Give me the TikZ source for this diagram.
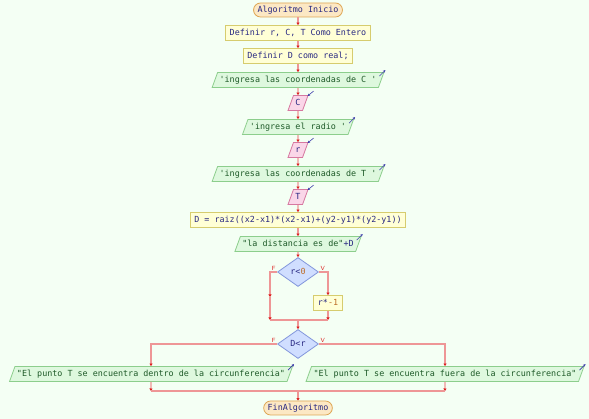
\documentclass[tikz,border=0pt]{standalone}
\usepackage{fontspec}
\setmonofont{DejaVu Sans Mono}
\usetikzlibrary{shapes.geometric, arrows.meta}

\definecolor{fondo}{RGB}{244,255,244}
\definecolor{termfondo}{RGB}{252,232,196}
\definecolor{termborde}{RGB}{222,166,84}
\definecolor{procfondo}{RGB}{255,255,214}
\definecolor{procborde}{RGB}{214,204,110}
\definecolor{salfondo}{RGB}{222,248,222}
\definecolor{salborde}{RGB}{140,206,140}
\definecolor{entfondo}{RGB}{250,214,232}
\definecolor{entborde}{RGB}{214,120,160}
\definecolor{decfondo}{RGB}{208,222,255}
\definecolor{decborde}{RGB}{130,150,220}
\definecolor{trazo}{RGB}{238,150,150}
\definecolor{punta}{RGB}{220,30,30}
\definecolor{texto}{RGB}{40,40,130}
\definecolor{cadena}{RGB}{30,90,40}
\definecolor{numero}{RGB}{190,110,40}
\definecolor{icono}{RGB}{60,60,170}

\newcommand{\txtcad}[1]{\textcolor{cadena}{#1}}
\newcommand{\txtnum}[1]{\textcolor{numero}{#1}}

\tikzset{
  base/.style={draw, line width=0.8pt, font=\ttfamily\fontsize{8.4}{10}\selectfont,
    text=texto, text height=6.3pt, text depth=1.7pt, inner ysep=3.5pt, inner xsep=4pt},
  terminal/.style={base, rounded corners=7pt, draw=termborde, fill=termfondo, inner ysep=3pt},
  proceso/.style={base, draw=procborde, fill=procfondo},
  salida/.style={base, trapezium, trapezium left angle=70, trapezium right angle=110,
    draw=salborde, fill=salfondo, inner xsep=2pt},
  entrada/.style={salida, draw=entborde, fill=entfondo},
  decision/.style={base, diamond, aspect=1.4, draw=decborde, fill=decfondo,
    minimum width=41pt, minimum height=29pt, inner sep=0pt},
  flecha/.style={line width=1.3pt, draw=trazo, -{Triangle[length=2.5pt,width=3pt,color=punta]}},
  union/.style={line width=1.3pt, draw=trazo},
  etiq/.style={font=\sffamily\fontsize{6}{6}\selectfont, text=punta, inner sep=1.5pt},
  sale/.style={draw=icono, line width=0.6pt, -{Stealth[length=2.5pt,width=2.5pt]}},
  entra/.style={draw=icono, line width=0.6pt, -{Stealth[length=2.5pt,width=2.5pt]}}
}

\begin{document}
\begin{tikzpicture}[x=1pt, y=-1pt]
\fill[fondo] (0,0) rectangle (589,419);
\useasboundingbox (0,0) rectangle (589,419);

\node[terminal] (ini) at (298,10) {Algoritmo Inicio};
\node[proceso] (d1) at (298,33) {Definir r, C, T Como Entero};
\node[proceso] (d2) at (298,56) {Definir D como real;};
\node[salida] (o1) at (298,80) {\txtcad{'ingresa las coordenadas de C '}};
\node[entrada] (i1) at (298,103) {C};
\node[salida] (o2) at (298,127) {\txtcad{'ingresa el radio '}};
\node[entrada] (i2) at (298,150) {r};
\node[salida] (o3) at (298,174) {\txtcad{'ingresa las coordenadas de T '}};
\node[entrada] (i3) at (298,197) {T};
\node[proceso] (p1) at (298,220) {D = raiz((x2-x1)*(x2-x1)+(y2-y1)*(y2-y1))};
\node[salida] (o4) at (298,244) {\txtcad{"la distancia es de"}+D};
\node[decision] (c1) at (298,272) {r<\txtnum{0}};
\node[proceso] (neg) at (328,303) {r*\txtnum{-1}};
\node[decision] (c2) at (298,344) {D<r};
\node[salida] (o5) at (151,374) {\txtcad{"El punto T se encuentra dentro de la circunferencia"}};
\node[salida] (o6) at (445,374) {\txtcad{"El punto T se encuentra fuera de la circunferencia"}};
\node[terminal] (fin) at (298,408) {FinAlgoritmo};

\coordinate (el1) at (270,297);
\coordinate (jl1) at (270,320);
\coordinate (jr1) at (328,320);
\coordinate (jc1) at (298,320);
\coordinate (jl2) at (151,391);
\coordinate (jr2) at (445,391);
\coordinate (jc2) at (298,391);

\draw[flecha] (ini) -- (d1);
\draw[flecha] (d1) -- (d2);
\draw[flecha] (d2) -- (o1);
\draw[flecha] (o1) -- (i1);
\draw[flecha] (i1) -- (o2);
\draw[flecha] (o2) -- (i2);
\draw[flecha] (i2) -- (o3);
\draw[flecha] (o3) -- (i3);
\draw[flecha] (i3) -- (p1);
\draw[flecha] (p1) -- (o4);
\draw[flecha] (o4) -- (c1);

\draw[flecha] (c1.west) -| (el1);
\draw[flecha] (el1) -- (jl1);
\draw[flecha] (c1.east) -| (neg.north);
\draw[flecha] (neg.south) -- (jr1);
\draw[union] (jl1) -- (jr1);
\draw[flecha] (jc1) -- (c2.north);
\node[etiq, anchor=south east] at (c1.west) {F};
\node[etiq, anchor=south west] at (c1.east) {V};

\draw[flecha] (c2.west) -| (o5.north);
\draw[flecha] (o5.south) -- (jl2);
\draw[flecha] (c2.east) -| (o6.north);
\draw[flecha] (o6.south) -- (jr2);
\draw[union] (jl2) -- (jr2);
\draw[flecha] (jc2) -- (fin.north);
\node[etiq, anchor=south east] at (c2.west) {F};
\node[etiq, anchor=south west] at (c2.east) {V};

\foreach \s in {o1,o2,o3,o4,o5,o6}
  \draw[sale] ([shift={(-5,4)}]\s.top right corner) -- ([shift={(1,-2)}]\s.top right corner);
\foreach \e in {i1,i2,i3}
  \draw[entra] ([shift={(5,-4)}]\e.top right corner) -- ([shift={(-1,1)}]\e.top right corner);
\end{tikzpicture}
\end{document}
